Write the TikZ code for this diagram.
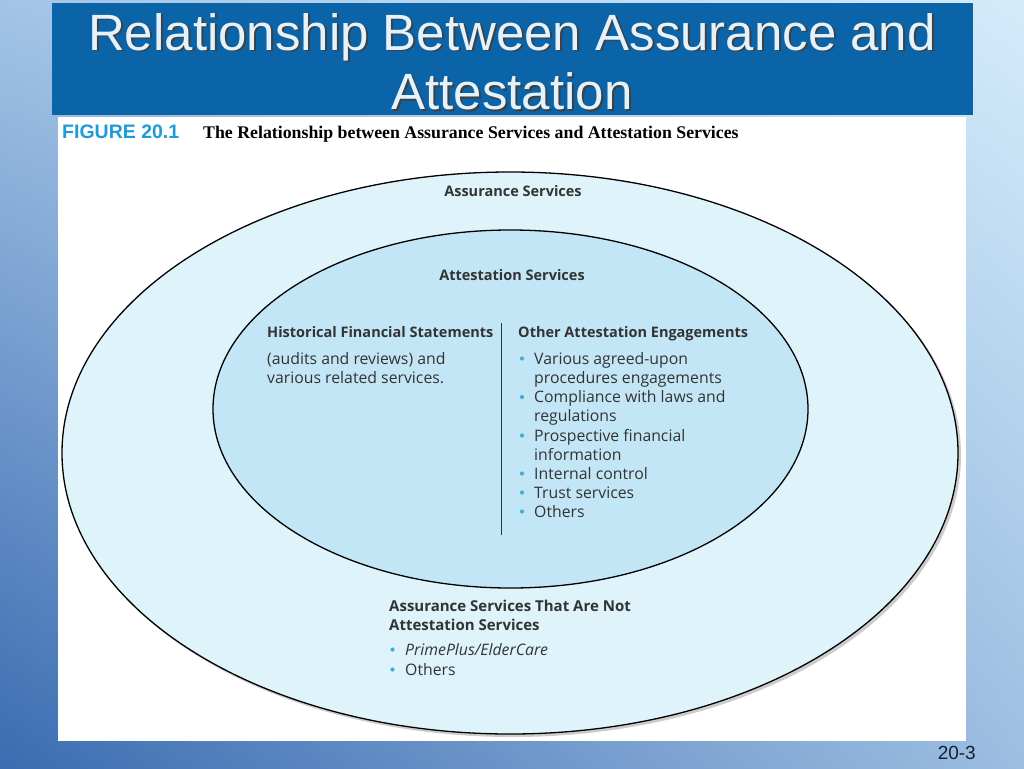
\documentclass[tikz,border=0pt]{standalone}
\usepackage{fontspec}
\setmainfont{Open Sans}
\newfontfamily\titlefont{Liberation Sans}
\newfontfamily\serifcap{Liberation Serif}
\usetikzlibrary{shadings,shapes.geometric}
\definecolor{titlebg}{HTML}{0B63A8}
\definecolor{titlefg}{HTML}{E4F2FC}
\definecolor{outerfill}{HTML}{DFF3FB}
\definecolor{innerfill}{HTML}{C3E6F6}
\definecolor{bodytext}{HTML}{333333}
\definecolor{bulletcol}{HTML}{3BB0DA}
\definecolor{figcol}{HTML}{1C9BD8}
\definecolor{pagenum}{HTML}{13203A}
\definecolor{bgUL}{HTML}{A3C4E6}
\definecolor{bgLL}{HTML}{3A6CB1}
\definecolor{bgUR}{HTML}{D3ECFB}
\definecolor{bgLR}{HTML}{9DBEE1}
\begin{document}
\begin{tikzpicture}[x=1pt,y=-1pt,
  titletext/.style={font=\titlefont\fontsize{51}{51}\selectfont, inner sep=0, anchor=base, text=titlefg},
  titleshadow/.style={font=\titlefont\fontsize{51}{51}\selectfont, inner sep=0, anchor=base, text=black!75},
  headtext/.style={font=\bfseries\fontsize{14.5}{14.5}\selectfont, inner sep=0, text=bodytext},
  bodytxt/.style={font=\fontsize{15.8}{15.8}\selectfont, inner sep=0, anchor=base west, text=bodytext},
  bulletdot/.style={circle, fill=bulletcol, inner sep=0, minimum size=4.2pt},
  ringshape/.style={ellipse, draw=black, line width=1.3pt, inner sep=0}
]
\useasboundingbox (0,0) rectangle (1024,768);
\shade[upper left=bgUL, lower left=bgLL, upper right=bgUR, lower right=bgLR] (0,0) rectangle (1024,768);

% title bar
\fill[titlebg] (52,3) rectangle (973,115);
\node[titleshadow] (t1s) at (514,52) {Relationship Between Assurance and};
\node[titletext] (t1) at (512,50) {Relationship Between Assurance and};
\node[titleshadow] (t2s) at (514,111) {Attestation};
\node[titletext] (t2) at (512,109) {Attestation};

% white figure panel
\fill[white] (58,117) rectangle (966,741);
\node[inner sep=0, anchor=base west, text=figcol, font=\titlefont\bfseries\fontsize{19.5}{19.5}\selectfont] (fig) at (62,138) {FIGURE 20.1};
\node[inner sep=0, anchor=base west, font=\serifcap\bfseries\fontsize{17.8}{17.8}\selectfont] (cap) at (203,138) {The Relationship between Assurance Services and Attestation Services};

% ellipses
\node[ellipse, fill=black!20, inner sep=0, minimum width=897pt, minimum height=563pt] (outershadow) at (512.5,455.5) {};
\node[ringshape, fill=outerfill, minimum width=896pt, minimum height=562pt] (outer) at (510,453) {};
\node[ringshape, fill=innerfill, minimum width=595pt, minimum height=358pt] (inner) at (510.5,409) {};

% headings
\node[headtext, anchor=base] (as) at (513,196) {Assurance Services};
\node[headtext, anchor=base] (ats) at (512,280) {Attestation Services};

% left column
\node[headtext, anchor=base west] (hfs) at (267,337) {Historical Financial Statements};
\node[bodytxt] (l1) at (267,364) {(audits and reviews) and};
\node[bodytxt] (l2) at (267,383.5) {various related services.};

% divider
\coordinate (dtop) at (501,323);
\coordinate (dbot) at (501,535);
\draw[bodytext, line width=0.8pt] (dtop) -- (dbot);

% right column
\node[headtext, anchor=base west] (oae) at (518,337) {Other Attestation Engagements};
\node[bodytxt] (r1) at (534,364) {Various agreed-upon};
\node[bodytxt] (r2) at (534,383) {procedures engagements};
\node[bodytxt] (r3) at (534,402.5) {Compliance with laws and};
\node[bodytxt] (r4) at (534,421.5) {regulations};
\node[bodytxt] (r5) at (534,441) {Prospective financial};
\node[bodytxt] (r6) at (534,460) {information};
\node[bodytxt] (r7) at (534,479) {Internal control};
\node[bodytxt] (r8) at (534,498) {Trust services};
\node[bodytxt] (r9) at (534,517) {Others};
\node[bulletdot] (b1) at (522,358.5) {};
\node[bulletdot] (b3) at (522,397) {};
\node[bulletdot] (b5) at (522,435.5) {};
\node[bulletdot] (b7) at (522,473.5) {};
\node[bulletdot] (b8) at (522,492.5) {};
\node[bulletdot] (b9) at (522,511.5) {};

% bottom block
\node[headtext, anchor=base west, font=\bfseries\fontsize{15}{15}\selectfont] (n1) at (389,611.5) {Assurance Services That Are Not};
\node[headtext, anchor=base west, font=\bfseries\fontsize{15}{15}\selectfont] (n2) at (389,630.5) {Attestation Services};
\node[bodytxt, font=\itshape\fontsize{15.8}{15.8}\selectfont] (n3) at (405,655) {PrimePlus/ElderCare};
\node[bodytxt] (n4) at (405,675) {Others};
\node[bulletdot] (nb1) at (392.5,649.5) {};
\node[bulletdot] (nb2) at (392.5,669.5) {};

% page number
\node[inner sep=0, anchor=base east, text=pagenum, font=\titlefont\fontsize{19}{19}\selectfont] (pg) at (976,759) {20-3};
\end{tikzpicture}
\end{document}
